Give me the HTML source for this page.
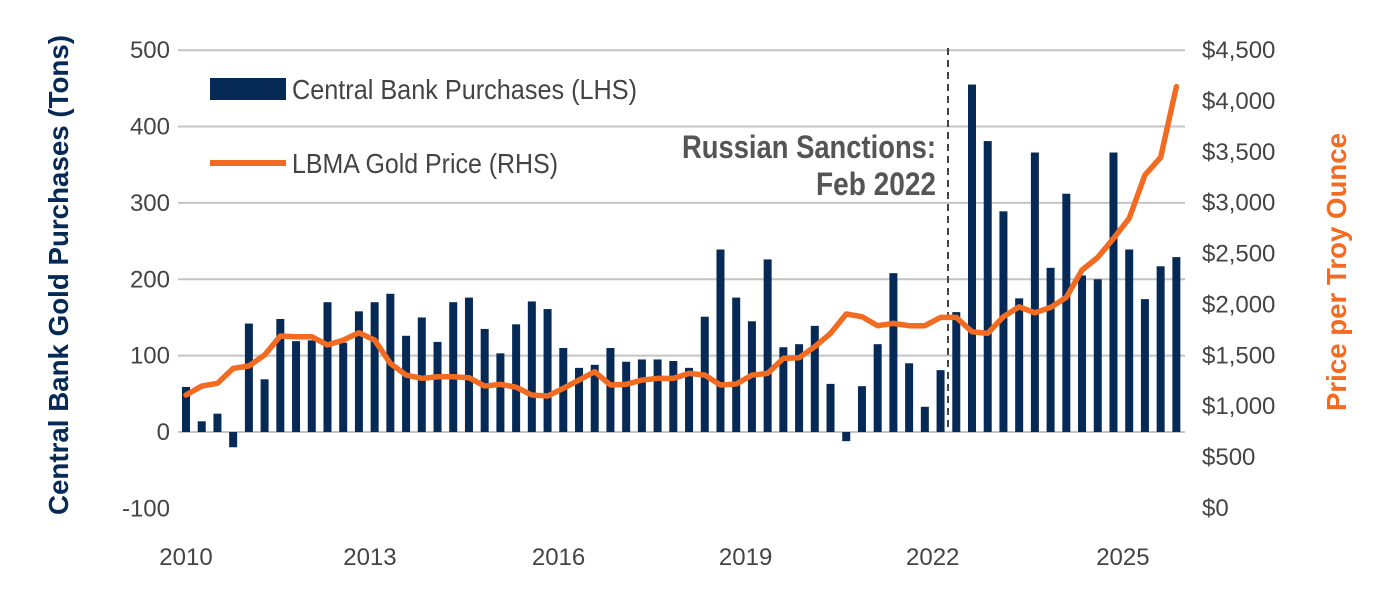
<!DOCTYPE html>
<html><head><meta charset="utf-8"><style>
body{margin:0;background:#fff;}
svg{display:block;font-family:"Liberation Sans Narrow","Liberation Sans",sans-serif;}
</style></head><body>
<svg id="chart" width="1400" height="600"></svg>
<script>
const purchases=[59,14,24,-20,142,69,148,119,120,170,117,158,170,181,126,150,118,170,176,135,103,141,171,161,110,84,88,110,92,95,95,93,84,151,239,176,145,226,111,115,139,63,-12,60,115,208,90,33,81,157,455,381,289,175,366,215,312,205,200,366,239,174,217,229];
const gold=[1110,1198,1225,1372,1395,1503,1690,1683,1683,1601,1650,1722,1650,1421,1306,1274,1290,1290,1280,1198,1215,1187,1110,1100,1176,1257,1339,1208,1215,1257,1274,1274,1323,1306,1208,1218,1306,1323,1470,1476,1585,1716,1906,1880,1791,1814,1791,1791,1873,1873,1732,1716,1880,1977,1918,1971,2070,2338,2462,2649,2846,3271,3445,4139];
const leftTicks=[-100,0,100,200,300,400,500];
const rightTicks=[0,500,1000,1500,2000,2500,3000,3500,4000,4500];
const yearLabels=["2010","2013","2016","2019","2022","2025"];
const yearIdx=[0,11.7,23.7,35.6,47.5,59.6];

const svg=document.getElementById('chart');
const NS='http://www.w3.org/2000/svg';
const X0=186,DX=15.72,XL=178,XR=1185;
const xs=i=>X0+i*DX;
const yL=v=>432-v*0.7636;
const yR=v=>508-v*(458/4500);
function mk(t,a,txt){const e=document.createElementNS(NS,t);for(const k in a)e.setAttribute(k,a[k]);if(txt!==undefined)e.textContent=txt;svg.appendChild(e);return e;}

leftTicks.forEach(v=>{
  if(v>=0){const g=mk('line',{x1:XL,x2:XR,y1:yL(v),y2:yL(v),stroke:'#c4c4c4','stroke-width':2});
  
  }
  const t=mk('text',{x:170,y:yL(v)+8,'text-anchor':'end','font-size':24,fill:'#444'},v);
  
  
});
rightTicks.forEach(v=>{
  const t=mk('text',{x:1202,y:yR(v)+8,'font-size':24,fill:'#444'},'$'+v.toLocaleString('en-US'));
  
  
});
yearLabels.forEach((l,i)=>{
  const t=mk('text',{x:xs(yearIdx[i]),y:565,'text-anchor':'middle','font-size':24,fill:'#444'},l);
  
  
});
purchases.forEach((v,i)=>{
  const y=Math.min(yL(v),yL(0));
  const b=mk('rect',{x:xs(i)-4,y:y,width:8,height:Math.abs(yL(v)-yL(0)),fill:'#062a55'});
  
  
});
const dl=mk('line',{x1:948,x2:948,y1:48,y2:432,stroke:'#444','stroke-width':2,'stroke-dasharray':'7,5'});


const p=mk('path',{d:gold.map((v,i)=>(i?'L':'M')+xs(i)+','+yR(v)).join(''),fill:'none',stroke:'#f26b21','stroke-width':5.5,'stroke-linejoin':'round','stroke-linecap':'round'});



const a1=mk('text',{x:936,y:158,'text-anchor':'end','font-size':32,'font-weight':'bold',fill:'#555',textLength:254,lengthAdjust:'spacingAndGlyphs'},'Russian Sanctions:');


const a2=mk('text',{x:936,y:195,'text-anchor':'end','font-size':32,'font-weight':'bold',fill:'#555',textLength:120,lengthAdjust:'spacingAndGlyphs'},'Feb 2022');



const ls1=mk('rect',{x:210,y:78,width:76,height:22,fill:'#062a55'});


const lt1=mk('text',{x:292,y:99,'font-size':28,fill:'#444',textLength:345,lengthAdjust:'spacingAndGlyphs'},'Central Bank Purchases (LHS)');


const ls2=mk('line',{x1:210,x2:286,y1:163,y2:163,stroke:'#f26b21','stroke-width':6});


const lt2=mk('text',{x:292,y:173,'font-size':28,fill:'#444',textLength:266,lengthAdjust:'spacingAndGlyphs'},'LBMA Gold Price (RHS)');



const yt=mk('text',{x:0,y:0,transform:'translate(68,275) rotate(-90)','text-anchor':'middle','font-size':28,'font-weight':'bold',fill:'#062a55',textLength:480,lengthAdjust:'spacingAndGlyphs'},'Central Bank Gold Purchases (Tons)');


const rt=mk('text',{x:0,y:0,transform:'translate(1346,272) rotate(-90)','text-anchor':'middle','font-size':28,'font-weight':'bold',fill:'#f26b21',textLength:278,lengthAdjust:'spacingAndGlyphs'},'Price per Troy Ounce');


</script>
</body></html>
